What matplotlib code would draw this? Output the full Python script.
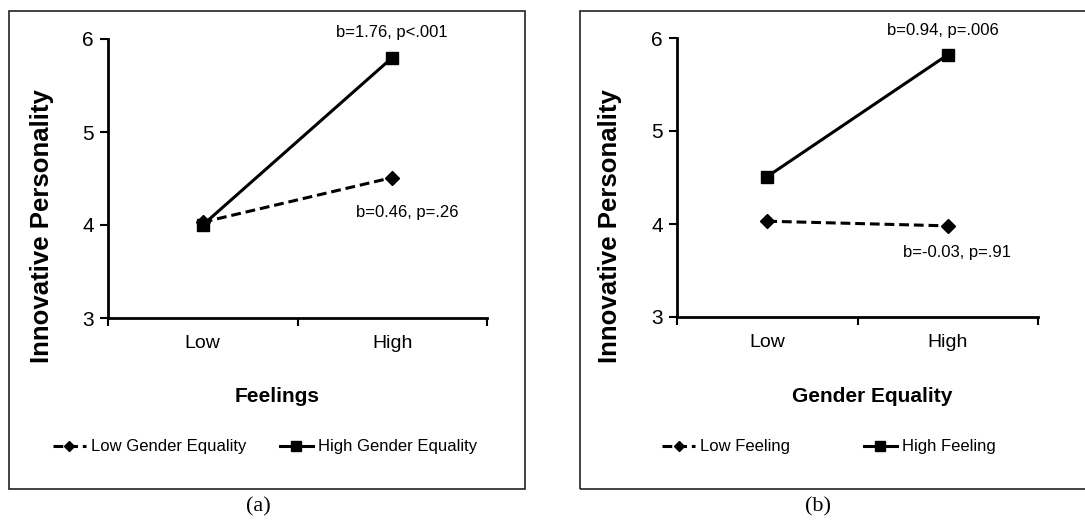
import matplotlib
matplotlib.use("Agg")
import matplotlib.pyplot as plt
from matplotlib.patches import Rectangle

W, H = 1085, 523
categories = ["Low", "High"]
yticks = [3, 4, 5, 6]

# Panel (a)
a_low_ge = [4.03, 4.51]
a_high_ge = [4.0, 5.8]
# Panel (b)
b_low_f = [4.03, 3.98]
b_high_f = [4.51, 5.82]

NARROW = ["Liberation Sans", "DejaVu Sans"]
BOLD = ["Liberation Sans", "DejaVu Sans"]

fig = plt.figure(figsize=(W / 100, H / 100), dpi=100)
fig.patch.set_facecolor("white")

def fx(px):
    return px / W

def fy(py):
    return 1 - py / H

# outer boxes
fig.patches.append(Rectangle((fx(9), fy(489)), fx(525) - fx(9), fy(11) - fy(489),
                             transform=fig.transFigure, fill=False, lw=1.2, ec="#222222"))
fig.patches.append(Rectangle((fx(580), fy(489)), fx(1090) - fx(580), fy(11) - fy(489),
                             transform=fig.transFigure, fill=False, lw=1.2, ec="#222222"))

def panel(rect, s_dash, s_solid, xlabel, lab_dash, lab_solid, ann_top, ann_bot,
          ann_top_xy, ann_bot_xy, leg_center, colspace, caption, cap_x, ylab_x, xlab_x):
    l, r, t, b = rect
    ax = fig.add_axes([fx(l), fy(b), fx(r) - fx(l), fy(t) - fy(b)])
    x = [0, 1]
    ax.plot(x, s_dash, ls=(0, (3.2, 1.6)), color="black", lw=2.2, marker="D",
            ms=7, label=lab_dash, zorder=3)
    ax.plot(x, s_solid, ls="-", color="black", lw=2.2, marker="s", ms=9,
            label=lab_solid, zorder=4)
    ax.set_xlim(-0.5, 1.5)
    ax.set_ylim(3, 6)
    ax.set_yticks(yticks)
    ax.set_yticklabels([str(v) for v in yticks], fontsize=15, family=NARROW)
    ax.set_xticks([-0.5, 0.5, 1.5])
    ax.set_xticklabels([])
    for xi, c in zip(x, categories):
        ax.text(xi, -0.06, c, transform=ax.get_xaxis_transform(), ha="center",
                va="top", fontsize=14, family=NARROW)
    ax.tick_params(axis="both", direction="out", length=6, width=1.5, pad=4)
    for s in ["top", "right"]:
        ax.spines[s].set_visible(False)
    for s in ["left", "bottom"]:
        ax.spines[s].set_linewidth(2)
    fig.text(fx(xlab_x), fy(397), xlabel, ha="center", va="center",
             fontsize=15, fontweight="bold", family=BOLD)
    fig.text(fx(ylab_x), fy(226), "Innovative Personality", rotation=90,
             ha="center", va="center", fontsize=18.5, fontweight="bold", family=BOLD)
    ax.text(ann_top_xy[0], ann_top_xy[1], ann_top, transform=fig.transFigure,
            ha="center", va="center", fontsize=12, family=NARROW)
    ax.text(ann_bot_xy[0], ann_bot_xy[1], ann_bot, transform=fig.transFigure,
            ha="center", va="center", fontsize=12, family=NARROW)
    ax.legend(loc="center", bbox_to_anchor=(fx(leg_center[0]), fy(leg_center[1])),
              bbox_transform=fig.transFigure, ncol=2, frameon=False,
              handlelength=2.0, handletextpad=0.3, columnspacing=colspace,
              prop={"family": NARROW, "size": 12}, markerscale=0.8)
    fig.text(fx(cap_x), fy(507), caption, ha="center", va="center", fontsize=16,
             family=["Liberation Serif", "DejaVu Serif"])
    ax.set_facecolor("white")
    return ax

panel((108, 487, 39, 318), a_low_ge, a_high_ge, "Feelings",
      "Low Gender Equality", "High Gender Equality",
      "b=1.76, p<.001", "b=0.46, p=.26",
      (fx(392), fy(32)), (fx(407), fy(213)),
      (265, 447), 2.0, "(a)", 258, 42, 277)

panel((677, 1038, 38, 317), b_low_f, b_high_f, "Gender Equality",
      "Low Feeling", "High Feeling",
      "b=0.94, p=.006", "b=-0.03, p=.91",
      (fx(943), fy(30)), (fx(957), fy(253)),
      (829, 447), 4.4, "(b)", 818, 610, 872)

fig.savefig("out.png", dpi=100, facecolor="white")
